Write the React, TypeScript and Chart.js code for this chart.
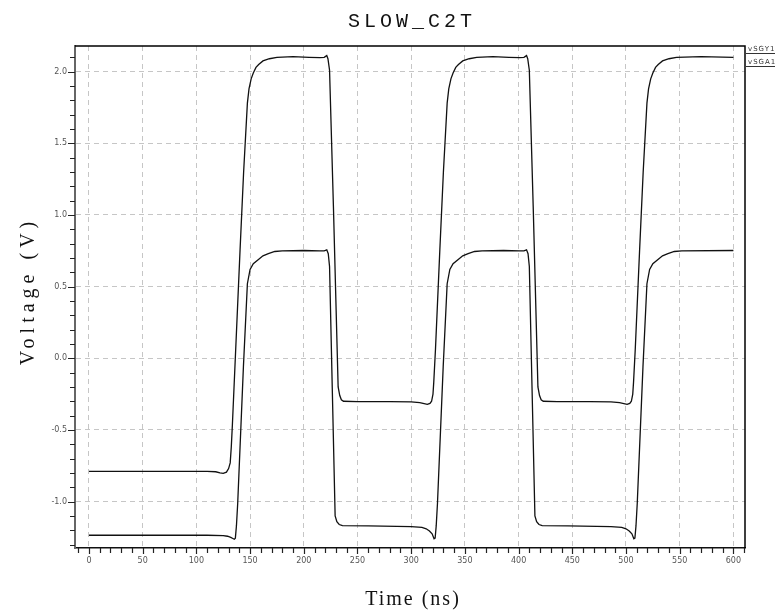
import { useEffect, useRef } from "react";
import { Chart, registerables } from "chart.js";

Chart.register(...registerables);

// ---- data ----
const timeUpper = [0,110,118,122,125,128,130,131.5,132.5,133.5,136.6,140.7,144,147.5,149,151,153,155.5,158,162,168,175,190,205,215,219,221.4,222.5,224,227.6,232,233.5,235,237,250,280,300,308,315,317.5,319,320.3,321,322.6,326.7,330,333.5,335,337,339,341.5,344,348,354,361,376,391,401,405,407.4,408.5,410,413.6,418,419.5,421,423,436,466,486,494,501,503.5,505,506.3,507,508.6,512.7,516,519.5,521,523,525,527.5,530,534,540,547,570,600];
const voltUpper = [-0.79,-0.79,-0.792,-0.8,-0.803,-0.795,-0.77,-0.73,-0.62,-0.47,0.06,0.76,1.3,1.78,1.88,1.95,1.99,2.03,2.05,2.075,2.09,2.1,2.105,2.1,2.098,2.1,2.112,2.09,2.01,1.06,-0.2,-0.26,-0.29,-0.3,-0.302,-0.303,-0.305,-0.31,-0.322,-0.315,-0.3,-0.25,-0.17,0.06,0.76,1.3,1.78,1.88,1.95,1.99,2.03,2.05,2.075,2.09,2.1,2.105,2.1,2.098,2.1,2.112,2.09,2.01,1.06,-0.2,-0.26,-0.29,-0.3,-0.302,-0.303,-0.305,-0.31,-0.322,-0.315,-0.3,-0.25,-0.17,0.06,0.76,1.3,1.78,1.88,1.95,1.99,2.03,2.05,2.075,2.09,2.1,2.105,2.1];

const timeLower = [0,110,125,129,132,134,135.3,136.3,137.3,138.5,143.8,147.5,150,153,157.8,162,167,173,180,200,215,219,221.4,222.8,224,226.5,229.2,230.8,233,236,260,300,310,314,317,319.5,321.3,322.3,323.3,324.5,329.8,333.5,336,339,343.8,348,353,359,366,386,401,405,407.4,408.8,410,412.5,415.2,416.8,419,422,446,486,496,500,503,505.5,507.3,508.3,509.3,510.5,515.8,519.5,522,525,529.8,534,539,545,552,600];
const voltLower = [-1.235,-1.235,-1.237,-1.242,-1.25,-1.258,-1.263,-1.255,-1.17,-1.01,-0.06,0.52,0.62,0.66,0.69,0.715,0.73,0.745,0.75,0.752,0.75,0.75,0.757,0.73,0.64,-0.2,-1.1,-1.14,-1.16,-1.168,-1.17,-1.175,-1.18,-1.19,-1.205,-1.225,-1.26,-1.255,-1.17,-1.01,-0.06,0.52,0.62,0.66,0.69,0.715,0.73,0.745,0.75,0.752,0.75,0.75,0.757,0.73,0.64,-0.2,-1.1,-1.14,-1.16,-1.168,-1.17,-1.175,-1.18,-1.19,-1.205,-1.225,-1.26,-1.255,-1.17,-1.01,-0.06,0.52,0.62,0.66,0.69,0.715,0.73,0.745,0.75,0.752];

const xTickValues = [0,50,100,150,200,250,300,350,400,450,500,550,600];
const yTickValues = [-1.0,-0.5,0.0,0.5,1.0,1.5,2.0];
const seriesNames = ["vSGY", "vSGA"];
const chartTitle = "SLOW_C2T";
const xTitle = "Time (ns)";
const yTitle = "Voltage (V)";

const W = 775;
const H = 616;

const decor = {
  id: "decor",
  beforeDraw(chart: any) {
    const ctx = chart.ctx;
    ctx.save();
    ctx.fillStyle = "#fff";
    ctx.fillRect(0, 0, chart.width, chart.height);
    ctx.restore();
  },
  afterDraw(chart: any) {
    const { ctx, chartArea: a, scales } = chart;
    const x = scales.x;
    const y = scales.y;
    ctx.save();
    // frame top & right
    ctx.strokeStyle = "#000";
    ctx.lineWidth = 1.5;
    ctx.beginPath();
    ctx.moveTo(a.left, a.top);
    ctx.lineTo(a.right, a.top);
    ctx.lineTo(a.right, a.bottom);
    ctx.stroke();

    // tick marks (major + minor)
    ctx.strokeStyle = "#222";
    ctx.lineWidth = 1.2;
    ctx.beginPath();
    for (let k = -13; k <= 21; k++) {
      const py = Math.round(y.getPixelForValue(k / 10)) + 0.5;
      const len = k % 5 === 0 ? 7 : 5;
      ctx.moveTo(a.left - len, py);
      ctx.lineTo(a.left, py);
    }
    for (let k = -1; k <= 61; k++) {
      const px = Math.round(x.getPixelForValue(k * 10)) + 0.5;
      const len = k % 5 === 0 ? 6 : 5;
      ctx.moveTo(px, a.bottom);
      ctx.lineTo(px, a.bottom + len);
    }
    ctx.stroke();

    // chart title
    ctx.fillStyle = "#111";
    ctx.textAlign = "center";
    ctx.textBaseline = "alphabetic";
    ctx.font = '20px "Liberation Mono"';
    (ctx as any).letterSpacing = "4px";
    ctx.fillText(chartTitle, 412, 27);

    // x title
    ctx.font = '20px "Liberation Serif"';
    (ctx as any).letterSpacing = "2px";
    ctx.fillText(xTitle, 413, 605);

    // y title
    ctx.save();
    ctx.translate(34, 291);
    ctx.rotate(-Math.PI / 2);
    (ctx as any).letterSpacing = "5px";
    ctx.fillText(yTitle, 0, 0);
    ctx.restore();

    // legend (clipped by canvas edge)
    (ctx as any).letterSpacing = "1px";
    ctx.font = '7px "DejaVu Sans"';
    ctx.textAlign = "left";
    ctx.fillStyle = "#333";
    ctx.strokeStyle = "#333";
    ctx.lineWidth = 1;
    const ys = [51, 64];
    seriesNames.forEach((n, i) => {
      ctx.fillText(n + "1", 748, ys[i]);
      ctx.beginPath();
      ctx.moveTo(746, ys[i] + 2.5);
      ctx.lineTo(775, ys[i] + 2.5);
      ctx.stroke();
    });
    ctx.restore();
  },
};

export default function App() {
  const ref = useRef<HTMLCanvasElement | null>(null);
  useEffect(() => {
    if (!ref.current) return;
    const isMajor = (v: number, step: number) =>
      Math.abs(v / step - Math.round(v / step)) < 1e-6;
    const chart = new Chart(ref.current, {
      type: "line",
      data: {
        datasets: [
          {
            label: seriesNames[0],
            data: timeUpper.map((t, i) => ({ x: t, y: voltUpper[i] })),
            borderColor: "#111",
            borderWidth: 1.3,
            pointRadius: 0,
            tension: 0,
            fill: false,
          },
          {
            label: seriesNames[1],
            data: timeLower.map((t, i) => ({ x: t, y: voltLower[i] })),
            borderColor: "#111",
            borderWidth: 1.3,
            pointRadius: 0,
            tension: 0,
            fill: false,
          },
        ],
      },
      options: {
        responsive: false,
        animation: false,
        events: [],
        layout: { padding: { top: 46, right: 30, left: 0, bottom: 0 } },
        plugins: { legend: { display: false }, title: { display: false }, tooltip: { enabled: false } },
        scales: {
          x: {
            type: "linear",
            min: -13,
            max: 610.8,
            afterFit: (s: any) => { s.height = 68; },
            afterBuildTicks: (s: any) => { s.ticks = xTickValues.map((v) => ({ value: v })); },
            ticks: {
              padding: 8,
              font: { family: "DejaVu Sans", size: 8 },
              color: "#555",
              maxRotation: 0,
              autoSkip: false,
              callback: (v: any) => String(v),
            },
            grid: {
              color: (c: any) => (isMajor(c.tick?.value ?? 1, 50) ? "#c6c6c6" : "rgba(0,0,0,0)"),
              lineWidth: 1,
              drawTicks: false,
            },
            border: { display: true, color: "#111", width: 1.5, dash: [5, 4] },
          },
          y: {
            type: "linear",
            min: -1.324,
            max: 2.179,
            afterFit: (s: any) => { s.width = 75; },
            afterBuildTicks: (s: any) => { s.ticks = yTickValues.map((v) => ({ value: v })); },
            ticks: {
              padding: 8,
              font: { family: "DejaVu Sans", size: 8 },
              color: "#555",
              autoSkip: false,
              callback: (v: any) => Number(v).toFixed(1),
            },
            grid: {
              color: "#c6c6c6",
              lineWidth: 1,
              drawTicks: false,
            },
            border: { display: true, color: "#666", width: 2, dash: [5, 4] },
          },
        },
      },
      plugins: [decor],
    });
    return () => chart.destroy();
  }, []);
  return (
    <canvas
      ref={ref}
      width={W}
      height={H}
      style={{ position: "fixed", left: 0, top: 0, width: W, height: H, display: "block" }}
    />
  );
}
